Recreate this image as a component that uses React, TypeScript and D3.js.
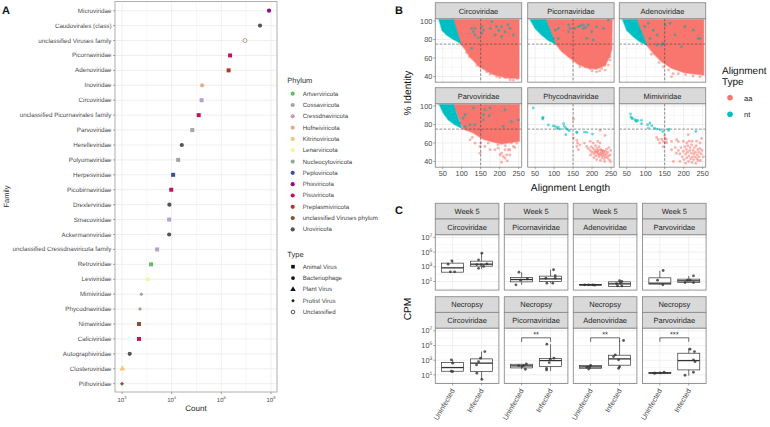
import React from "react";
import * as d3 from "d3";

// ---------- Panel A data ----------
const families = ["Microviridae","Caudovirales (class)","unclassified Viruses family","Picornaviridae","Adenoviridae","Inoviridae","Circoviridae","unclassified Picornavirales family","Parvoviridae","Herelleviridae","Polyomaviridae","Herpesviridae","Picobirnaviridae","Drexlerviridae","Smacoviridae","Ackermannviridae","unclassified Cressdnaviricota family","Retroviridae","Leviviridae","Mimiviridae","Phycodnaviridae","Nimaviridae","Caliciviridae","Autographiviridae","Closteroviridae","Pithoviridae"];
const counts = [912000,600000,300000,150000,140000,41000,40000,35000,26000,16000,13500,10700,9800,9000,8900,8900,5100,3850,3300,2450,2300,2200,2200,1430,1015,1000];
const familyPhylum = ["Phixviricota","Uroviricota","unclassified Viruses phylum","Pisuviricota","Preplasmiviricota","Hofneiviricota","Cressdnaviricota","Pisuviricota","Cossaviricota","Uroviricota","Cossaviricota","Peploviricota","Pisuviricota","Uroviricota","Cressdnaviricota","Uroviricota","Cressdnaviricota","Artverviricota","Lenarviricota","Nucleocytoviricota","Nucleocytoviricota","unclassified Viruses phylum","Pisuviricota","Uroviricota","Kitrinoviricota","unclassified Viruses phylum"];
const familyType = ["Bacteriophage","Bacteriophage","Unclassified","Animal Virus","Animal Virus","Bacteriophage","Animal Virus","Animal Virus","Animal Virus","Bacteriophage","Animal Virus","Animal Virus","Animal Virus","Bacteriophage","Animal Virus","Bacteriophage","Animal Virus","Animal Virus","Bacteriophage","Protist Virus","Protist Virus","Animal Virus","Animal Virus","Bacteriophage","Plant Virus","Protist Virus"];
const phyla = ["Artverviricota","Cossaviricota","Cressdnaviricota","Hofneiviricota","Kitrinoviricota","Lenarviricota","Nucleocytoviricota","Peploviricota","Phixviricota","Pisuviricota","Preplasmiviricota","unclassified Viruses phylum","Uroviricota"];
const phylumColors = ["#66bb6a","#9fa8a3","#b9a0c6","#e3b08e","#f5c77e","#f8f58c","#8fae96","#3b4f9b","#970a85","#c70f5f","#ae3a24","#8a5234","#555555"];
const types = ["Animal Virus","Bacteriophage","Plant Virus","Protist Virus","Unclassified"];
const countTicks = [3,4,5,6];

// ---------- Panel B data: [alignment length, % identity] ----------
type P = [number, number];
const bNames = ["Circoviridae","Picornaviridae","Adenoviridae","Parvoviridae","Phycodnaviridae","Mimiviridae"];
const circoAaHull: P[] = [[78,101.5],[251,101.5],[251,38],[218,38.5],[183,42],[148,50],[122,61],[108,70],[95,76]];
const picoAaHull: P[] = [[78,101.5],[253,101.5],[252,70],[247,62],[234,52],[212,48],[190,49],[164,53],[138,61],[120,67],[104,75]];
const adenoAaHull: P[] = [[76,101.5],[253,101.5],[253,41.5],[203,44],[168,49],[142,56],[120,65],[103,74]];
const parvoAaHull: P[] = [[78,101.5],[252,101.5],[252,62],[205,59],[183,61],[157,64],[130,71],[104,75]];
const circoNtHull: P[] = [[40,101.5],[78,101.5],[97,76],[78,80],[60,85],[48,90]];
const picoNtHull: P[] = [[37,101.5],[78,101.5],[104,75],[85,79],[67,85],[50,92]];
const adenoNtHull: P[] = [[39,101.5],[76,101.5],[103,74],[85,77.5],[67.5,83],[50,90]];
const parvoNtHull: P[] = [[41,101.5],[78,101.5],[100,76],[82,79.7],[65,85],[52,92]];
const emptyHull: P[] = [];
const circoAa: P[] = [[236,36],[246,37.8],[192,40],[165.7,45],[214,38.9],[120,61.3],[113,66],[140,52],[175,42.5],[228,36.5],[200,39]];
const picoAa: P[] = [[238.6,66.7],[247,61.3],[234,52.3],[225,48.7],[234,46.9],[208,50.5],[212,45],[195,48.7],[181.6,50.5],[168,50.5],[243,52.3],[247,57.7],[220,46],[200,46]];
const adenoAa: P[] = [[168,39.6],[172,43],[160,47],[186,43],[243,39.6],[225,40.5],[146.5,50.5],[135,55],[115,64],[205,42]];
const parvoAa: P[] = [[122,63.4],[148,56.2],[161,56.2],[174.5,52.6],[187.6,52.6],[205,49],[209.5,45.3],[205,39.2],[220,40.6],[227,47],[222.7,52.6],[236,56.2],[245,59.8],[214,52.6],[196,54.4],[135,59.8],[148,49],[214,43.5],[227,52.6],[218,47],[201,47],[231,60],[170,60],[150,60],[128,66],[195,58],[215,57],[240,55]];
const phycoAa: P[] = [[151,85.9],[151,65.3],[160,62.8],[162,59.9],[160,56.3],[164,52.6],[168,58],[180,59.9],[186,56.3],[195,61.7],[203,59.9],[221,73.6],[234,68.2],[215,61.7],[221,59.9],[238,53.4],[190,54],[195,52],[198,56],[200,50],[203,54],[205,48],[207,52],[209,57],[210,46],[212,50],[213,54],[215,48],[216,52],[218,56],[218,45],[220,49],[222,53],[223,47],[225,50],[226,44],[228,52],[229,46],[231,49],[232,43],[234,47],[235,51],[236,45],[238,48],[240,44],[241,50],[243,46],[245,42],[247,47],[248,40],[249,52],[205,44],[196,47],[212,42],[222,41],[233,40],[244,55],[208,50],[214,51],[219,47],[224,52],[227,48],[230,51]];
const mimiAa: P[] = [[129,66],[133,63.5],[142,64],[146,61.7],[151,65],[151,60],[146,56],[155,60.6],[150,68],[154,64],[137,60],[212,69],[199,61.7],[208,60],[181.5,63.5],[186,61.5],[168,61.7],[168,52.6],[172.8,40],[181,49],[247,65],[243,60],[252,45],[186,52],[190,48],[193,55],[196,45],[199,51],[201,42],[203,56],[205,48],[207,53],[208,44],[210,50],[211,57],[213,40],[214,46],[216,52],[217,55],[218,43],[220,49],[221,58],[222,39],[223,45],[225,52],[226,42],[227,48],[228,55],[230,45],[231,50],[232,38],[233,57],[235,43],[236,47],[237,53],[238,41],[240,50],[241,45],[243,54],[244,41],[246,48],[248,52],[214,62],[222,62],[234,62],[178,55],[190,40],[205,38]];
const circoNt: P[] = [[126,92],[135,92],[131,88.4],[153,93.8],[157,90],[153,86.6],[179,99.3],[192,93.8],[205,93.8],[214,88.4],[227,92],[188,84.8],[205,83],[236,84.8],[126,70.4],[135,85],[175,92],[143,82],[198,90],[222,96]];
const picoNt: P[] = [[111,92],[138,95.7],[142,92],[164,93.8],[177,95.7],[190,95.7],[155,92],[177,92],[212,93.8],[230,92],[199,88.4],[203,79.4],[186,81.2],[138,88.4],[103,90],[111,81],[98,81],[243,101],[170,95],[183,93]];
const adenoNt: P[] = [[98,94],[107,97.5],[85,88.4],[120,90],[111.5,81],[129,74],[142,74],[151,95.7],[164,97.5],[177,85],[203,94],[225,90],[238,81],[243,81],[194,72],[146,76],[89,81],[130,85]];
const parvoNt: P[] = [[109,90.5],[131,97.8],[161,96],[157,90.5],[173,89.4],[214,96],[174.5,97.8],[122,79.7],[135,79.7],[95.5,81.5],[109,77.9],[231,83.3],[249,85],[157,85],[209.5,77.9],[104,87]];
const phycoNt: P[] = [[45,97.8],[70,87],[70,86],[71,87.5],[85,79.5],[98,78.5],[103,78],[107,76],[111,77],[116,75],[125,80.8],[127,78],[131,76],[136,74.4],[140,73.3],[160,71.8],[160,71],[180,71.8],[186,71.5],[201,69.6],[131,69]];
const mimiNt: P[] = [[60,91.3],[61,88],[65,86.3],[72,85.2],[76,83.4],[79,84.5],[89,84.5],[89,80.8],[105,79.8],[111,81.6],[107,76.1],[116,78.7],[123,76.1],[129,75],[138,74.3],[145,72.5],[161,75],[160,73.6],[232,72.5],[64,87],[74,84]];
const aaHulls = [circoAaHull,picoAaHull,adenoAaHull,parvoAaHull,emptyHull,emptyHull];
const ntHulls = [circoNtHull,picoNtHull,adenoNtHull,parvoNtHull,emptyHull,emptyHull];
const aaPoints = [circoAa,picoAa,adenoAa,parvoAa,phycoAa,mimiAa];
const ntPoints = [circoNt,picoNt,adenoNt,parvoNt,phycoNt,mimiNt];
const lengthTicks = [50,100,150,200,250];
const identityTicks = [40,60,80,100];

// ---------- Panel C data: log10 CPM ----------
const cViruses = ["Circoviridae","Picornaviridae","Adenoviridae","Parvoviridae"];
const cTimes = ["Week 5","Necropsy"];
const groups = ["Uninfected","Infected"];
// box: [whisker low, q1, median, q3, whisker high]
const boxW5Uninf = [[2.27,2.27,2.86,3.5,3.82],[0.55,0.95,1.27,1.55,2.27],[0.5,0.5,0.55,0.6,0.6],[0.55,0.64,0.77,1.5,2.45]];
const boxW5Inf = [[2.68,3.09,3.36,3.77,4.86],[0.77,1.0,1.36,1.73,2.6],[0.32,0.32,0.68,0.95,1.1],[0.86,0.86,1.09,1.32,1.77]];
const boxNecUninf = [[1.45,1.5,2.0,2.68,3.05],[1.77,1.95,2.23,2.45,2.5],[1.8,1.9,2.09,2.27,2.3],[1.2,1.2,1.27,1.32,1.36]];
const boxNecInf = [[0.32,1.45,2.6,3.18,4.18],[1.55,2.14,2.95,3.23,5.18],[1.9,2.32,3.18,3.68,5.68],[0.9,1.68,2.95,3.95,4.64]];
// points: [offset from group centre in px, log10 CPM]
const ptsW5Uninf: P[][] = [[[-0.7,3.82],[-4.5,3.36],[-2.3,2.32],[2,2.32]],[[-2.7,2.27],[-5.7,0.55],[-1,1.18],[5.7,1.36]],[[-6,0.55],[-2,0.55],[2,0.55],[4,0.5]],[[3.3,2.5],[-2.3,1.18],[3,0.55]]];
const ptsW5Inf: P[][] = [[[0.3,4.86],[-3,3.95],[5.3,3.4],[-3,2.8],[2,3.05],[-4.7,3.3],[-0.3,3.3]],[[3,2.6],[-4.7,1.45],[4.7,1.8],[-3.7,0.77],[2.3,0.77],[4.7,1.45]],[[0,1.1],[-2,0.4],[2.3,0.4],[0.7,0.77],[2.3,1.0],[-3,0.7]],[[4.7,1.77],[-3.7,0.86],[-1.3,1.18],[1.3,1.18],[4.7,0.86]]];
const ptsNecUninf: P[][] = [[[-1.3,3.05],[0,2.6],[-1.3,1.5],[0,1.45]],[[-3,2.27],[0.3,2.14],[3.7,1.77],[4.7,2.5],[2,2.27]],[[-2,1.8],[0,2.3],[-3.7,2.05],[-1,2.1]],[[-4.7,1.23],[0.3,1.27],[4.3,1.36],[-5.7,1.23]]];
const ptsNecInf: P[][] = [[[3.3,4.18],[-1,3.27],[-5,2.36],[-4.7,1.23],[0.3,0.4],[-3,2.8]],[[-3.7,5.18],[3.3,3.27],[-0.3,3.14],[-1.3,2.68],[-4,1.68],[-4,1.9]],[[4,5.68],[-4.3,3.73],[-1,3.05],[-1,1.9],[0,2.1],[-6,3.5]],[[1.3,4.5],[5.7,4.18],[4.7,3.05],[6.3,2.8],[4.7,1.36],[-3.7,0.95]]];
const boxes = [[boxW5Uninf,boxW5Inf],[boxNecUninf,boxNecInf]];
const points = [[ptsW5Uninf,ptsW5Inf],[ptsNecUninf,ptsNecInf]];
const signif = [[null,null,null,null],[null,"**","**","***"]];
const cpmTicks = [1,3,5,7];

// ---------- Style ----------
const FONT = "'Liberation Sans', Arial, sans-serif";
const GRID = "#ebebeb";
const BORDER = "#8c8c8c";
const AXT = "#4d4d4d";
const RED = "#F8766D";
const TEAL = "#00BFC4";

function Pow({x,y,base,exp,size,anchor="end"}:{x:number,y:number,base:string,exp:number,size:number,anchor?:string}){
  return <text x={x} y={y} fontSize={size} fill={AXT} textAnchor={anchor}>{base}<tspan fontSize={size*0.7} dy={-size*0.4}>{exp}</tspan></text>;
}

function Shape({type,x,y,color,s}:{type:string,x:number,y:number,color:string,s:number}){
  if(type==="Animal Virus") return <rect x={x-s} y={y-s} width={2*s} height={2*s} fill={color}/>;
  if(type==="Bacteriophage") return <circle cx={x} cy={y} r={s*1.05} fill={color}/>;
  if(type==="Plant Virus") { const t=d3.symbol(d3.symbolTriangle, s*s*4)(); return <path d={t||""} transform={`translate(${x},${y})`} fill={color}/>; }
  if(type==="Protist Virus") { const r=s*1.1; return <path d={`M${x},${y-r}L${x+r},${y}L${x},${y+r}L${x-r},${y}Z`} fill={color}/>; }
  return <circle cx={x} cy={y} r={s} fill="none" stroke={color} strokeWidth={0.7}/>;
}

function PanelA(){
  const L=115,R=277,T=1.5,B=392;
  const x=d3.scaleLog().domain([Math.pow(10,3-(122-L)/49.67),Math.pow(10,3+(R-122)/49.67)]).range([L,R]);
  const y=d3.scalePoint<string>().domain(families).range([10.7,383.7]);
  const minor=[3.5,4.5,5.5];
  return <g>
    <rect x={L} y={T} width={R-L} height={B-T} fill="#fff"/>
    {minor.map(m=><line key={m} x1={x(Math.pow(10,m))} x2={x(Math.pow(10,m))} y1={T} y2={B} stroke={GRID} strokeWidth={0.4}/>)}
    {countTicks.map(m=><line key={m} x1={x(Math.pow(10,m))} x2={x(Math.pow(10,m))} y1={T} y2={B} stroke={GRID} strokeWidth={0.8}/>)}
    {families.map(f=><line key={f} x1={L} x2={R} y1={y(f)} y2={y(f)} stroke={GRID} strokeWidth={0.8}/>)}
    {families.map((f,i)=>{
      const c=phylumColors[phyla.indexOf(familyPhylum[i])];
      const t=familyType[i];
      const col=t==="Unclassified"?"#a9795c":c;
      return <Shape key={f} type={t} x={x(counts[i])} y={y(f)!} color={col} s={t==="Animal Virus"?2:t==="Protist Virus"?1.8:2}/>;
    })}
    <rect x={L} y={T} width={R-L} height={B-T} fill="none" stroke="#a6a6a6" strokeWidth={0.9}/>
    {families.map(f=><g key={f}>
      <line x1={L-2} x2={L} y1={y(f)} y2={y(f)} stroke="#555" strokeWidth={0.5}/>
      <text x={L-3.5} y={y(f)!+2} fontSize={6.25} fill={AXT} textAnchor="end">{f}</text>
    </g>)}
    {countTicks.map(m=><g key={m}>
      <line x1={x(Math.pow(10,m))} x2={x(Math.pow(10,m))} y1={B} y2={B+2} stroke="#555" strokeWidth={0.5}/>
      <Pow x={x(Math.pow(10,m))} y={B+9.5} base="10" exp={m} size={6} anchor="middle"/>
    </g>)}
    <text x={196} y={411} fontSize={8} fill="#222" textAnchor="middle">Count</text>
    <text transform="translate(8.5,196.5) rotate(-90)" fontSize={7.5} fill="#333" textAnchor="middle">Family</text>
    <text x={2} y={14} fontSize={11} fontWeight="bold" fill="#111">A</text>
  </g>;
}

function LegendA(){
  const sy=(i:number)=>93.7+i*11.31;
  const ty=(i:number)=>266.7+i*11.33;
  return <g>
    <text x={287.3} y={83} fontSize={7.5} fill="#333">Phylum</text>
    {phyla.map((p,i)=><g key={p}>
      <circle cx={292.7} cy={sy(i)} r={2.1} fill={phylumColors[i]}/>
      <text x={302.7} y={sy(i)+2} fontSize={6.1} fill="#444">{p}</text>
    </g>)}
    <text x={287.3} y={256.5} fontSize={7.5} fill="#333">Type</text>
    {types.map((t,i)=><g key={t}>
      <Shape type={t} x={293} y={ty(i)} color="#111" s={t==="Animal Virus"?1.8:t==="Protist Virus"?1.6:1.8}/>
      <text x={302.7} y={ty(i)+2} fontSize={6.1} fill="#444">{t}</text>
    </g>)}
  </g>;
}

function PanelB(){
  const colL=[435.3,527.7,619.3];
  const W=86.4;
  const rowT=[2.7,87.7];
  const H=16;
  const PH=63.5;
  const line=d3.line<P>();
  return <g>
    <text x={395} y={14} fontSize={11} fontWeight="bold" fill="#111">B</text>
    {bNames.map((name,i)=>{
      const c=i%3, r=Math.floor(i/3);
      const L=colL[c], T=rowT[r]+H, B=T+PH;
      const x=d3.scaleLinear().domain([30.5,258]).range([L,L+W]);
      const y=d3.scaleLinear().domain([33.8,102.5]).range([B,T]);
      const hull=(h:P[])=>h.length?(line(h.map(p=>[x(p[0]),y(p[1])] as P))+"Z"):"";
      return <g key={name}>
        <rect x={L} y={T} width={W} height={PH} fill="#fff"/>
        {[75,125,175,225].map(v=><line key={v} x1={x(v)} x2={x(v)} y1={T} y2={B} stroke={GRID} strokeWidth={0.4}/>)}
        {[50,70,90].map(v=><line key={v} x1={L} x2={L+W} y1={y(v)} y2={y(v)} stroke={GRID} strokeWidth={0.4}/>)}
        {lengthTicks.map(v=><line key={v} x1={x(v)} x2={x(v)} y1={T} y2={B} stroke={GRID} strokeWidth={0.8}/>)}
        {identityTicks.map(v=><line key={v} x1={L} x2={L+W} y1={y(v)} y2={y(v)} stroke={GRID} strokeWidth={0.8}/>)}
        {aaHulls[i].length>0 && <path d={hull(aaHulls[i])} fill={RED} stroke={RED} strokeOpacity={0.5} strokeWidth={1.6}/>}
        {aaPoints[i].map((p,j)=><circle key={j} cx={x(p[0])} cy={y(p[1])} r={1.45} fill={RED} opacity={0.55}/>)}
        {ntHulls[i].length>0 && <path d={hull(ntHulls[i])} fill={TEAL} stroke={TEAL} strokeOpacity={0.5} strokeWidth={1.4}/>}
        {ntPoints[i].map((p,j)=><circle key={j} cx={x(p[0])} cy={y(p[1])} r={1.45} fill={i<4?"#3f9ea3":TEAL} opacity={i<4?0.75:0.6}/>)}
        <line x1={x(150)} x2={x(150)} y1={T} y2={B} stroke="#444" strokeWidth={0.6} strokeDasharray="2.6,1.6"/>
        <line x1={L} x2={L+W} y1={y(75)} y2={y(75)} stroke="#444" strokeWidth={0.6} strokeDasharray="2.6,1.6"/>
        <rect x={L} y={T} width={W} height={PH} fill="none" stroke={BORDER} strokeWidth={0.9}/>
        <rect x={L} y={rowT[r]} width={W} height={H} fill="#d9d9d9" stroke={BORDER} strokeWidth={0.9}/>
        <text x={L+W/2} y={rowT[r]+10.9} fontSize={7.5} fill="#262626" textAnchor="middle">{name}</text>
        {c===0 && identityTicks.map(v=><g key={v}>
          <line x1={L-2} x2={L} y1={y(v)} y2={y(v)} stroke="#555" strokeWidth={0.5}/>
          <text x={L-3} y={y(v)+2.6} fontSize={7.3} fill={AXT} textAnchor="end">{v}</text>
        </g>)}
        {r===1 && lengthTicks.map(v=><g key={v}>
          <line x1={x(v)} x2={x(v)} y1={B} y2={B+2} stroke="#555" strokeWidth={0.5}/>
          <text x={x(v)} y={B+8.6} fontSize={7.3} fill={AXT} textAnchor="middle">{v}</text>
        </g>)}
      </g>;
    })}
    <text x={570.5} y={190.5} fontSize={10.2} fill="#111" textAnchor="middle">Alignment Length</text>
    <text transform="translate(411,93) rotate(-90)" fontSize={10.2} fill="#111" textAnchor="middle">% Identity</text>
    <text x={722} y={74} fontSize={10} fill="#111">Alignment</text>
    <text x={722} y={84.5} fontSize={10} fill="#111">Type</text>
    <circle cx={730} cy={97.7} r={2.8} fill={RED}/>
    <circle cx={730} cy={114.3} r={2.8} fill={TEAL}/>
    <text x={744} y={100.5} fontSize={7.5} fill="#222">aa</text>
    <text x={744} y={117} fontSize={7.5} fill="#222">nt</text>
  </g>;
}

function PanelC(){
  const colL=[435.3,504.3,573.3,642.5];
  const W=63.6;
  const rowT=[203.3,296.7];
  const S=15.7;
  const PH=55.4;
  return <g>
    <text x={395} y={214} fontSize={11} fontWeight="bold" fill="#111">C</text>
    {cTimes.map((time,r)=>cViruses.map((virus,c)=>{
      const L=colL[c], T=rowT[r]+2*S, B=T+PH;
      const x=d3.scalePoint<string>().domain(groups).range([L,L+W]).padding(0.6);
      const y=d3.scaleLinear().domain([-0.17,7.37]).range([B,T]);
      const bw=22;
      const sig=signif[r][c];
      return <g key={time+virus}>
        <rect x={L} y={T} width={W} height={PH} fill="#fff"/>
        {[0,2,4,6].map(v=><line key={v} x1={L} x2={L+W} y1={y(v)} y2={y(v)} stroke={GRID} strokeWidth={0.4}/>)}
        {cpmTicks.map(v=><line key={v} x1={L} x2={L+W} y1={y(v)} y2={y(v)} stroke={GRID} strokeWidth={0.8}/>)}
        {groups.map(g=><line key={g} x1={x(g)} x2={x(g)} y1={T} y2={B} stroke={GRID} strokeWidth={0.8}/>)}
        {groups.map((g,gi)=>{
          const [lo,q1,med,q3,hi]=boxes[r][gi][c];
          const cx=x(g)!;
          return <g key={g}>
            <line x1={cx} x2={cx} y1={y(hi)} y2={y(q3)} stroke="#333" strokeWidth={0.7}/>
            <line x1={cx} x2={cx} y1={y(q1)} y2={y(lo)} stroke="#333" strokeWidth={0.7}/>
            <rect x={cx-bw/2} y={y(q3)} width={bw} height={Math.max(y(q1)-y(q3),0.3)} fill="#fff" fillOpacity={0.6} stroke="#333" strokeWidth={0.7}/>
            <line x1={cx-bw/2} x2={cx+bw/2} y1={y(med)} y2={y(med)} stroke="#333" strokeWidth={1.3}/>
            {points[r][gi][c].map((p,j)=><circle key={j} cx={cx+p[0]} cy={y(p[1])} r={1.4} fill="#333" opacity={0.8}/>)}
          </g>;
        })}
        {sig && <g>
          <path d={`M${x("Uninfected")},${y(5.5)}V${y(6.05)}H${x("Infected")}V${y(5.5)}`} fill="none" stroke="#333" strokeWidth={0.7}/>
          <text x={(x("Uninfected")!+x("Infected")!)/2} y={y(6.05)-0.3} fontSize={7.5} fill="#222" textAnchor="middle">{sig}</text>
        </g>}
        <rect x={L} y={T} width={W} height={PH} fill="none" stroke={BORDER} strokeWidth={0.9}/>
        <rect x={L} y={rowT[r]} width={W} height={S} fill="#d9d9d9" stroke={BORDER} strokeWidth={0.9}/>
        <rect x={L} y={rowT[r]+S} width={W} height={S} fill="#d9d9d9" stroke={BORDER} strokeWidth={0.9}/>
        <text x={L+W/2} y={rowT[r]+10.6} fontSize={7.5} fill="#262626" textAnchor="middle">{time}</text>
        <text x={L+W/2} y={rowT[r]+S+10.6} fontSize={7.5} fill="#262626" textAnchor="middle">{virus}</text>
        {c===0 && cpmTicks.map(v=><g key={v}>
          <line x1={L-2} x2={L} y1={y(v)} y2={y(v)} stroke="#555" strokeWidth={0.5}/>
          <Pow x={L-3} y={y(v)+2.6} base="10" exp={v} size={7.3}/>
        </g>)}
        {r===1 && groups.map(g=><g key={g}>
          <line x1={x(g)} x2={x(g)} y1={B} y2={B+2} stroke="#555" strokeWidth={0.5}/>
          <text transform={`translate(${x(g)! + 2.5},${B+7}) rotate(-60)`} fontSize={7.3} fill={AXT} textAnchor="end">{g}</text>
        </g>)}
      </g>;
    }))}
    <text transform="translate(411,309) rotate(-90)" fontSize={10.2} fill="#111" textAnchor="middle">CPM</text>
  </g>;
}

export default function App(){
  return <svg width={770} height={427} viewBox="0 0 770 427" textRendering="geometricPrecision" style={{position:"absolute",left:0,top:0,display:"block",background:"#fff",fontFamily:FONT}}>
    <PanelA/>
    <LegendA/>
    <PanelB/>
    <PanelC/>
  </svg>;
}
